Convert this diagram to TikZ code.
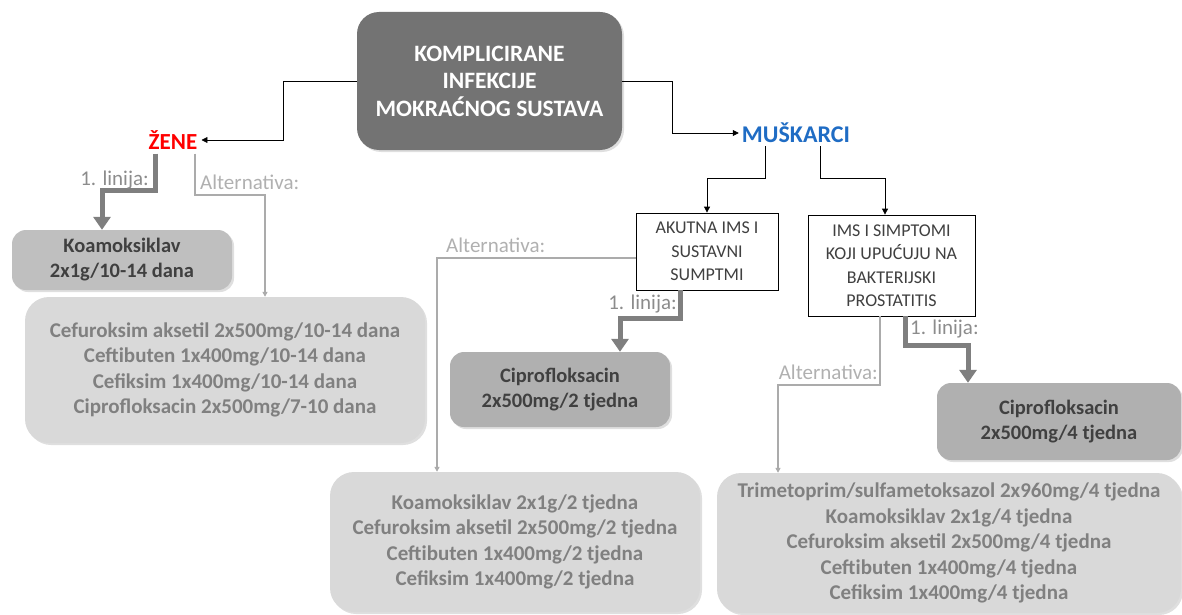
\documentclass[tikz,border=0pt]{standalone}
\usepackage{fontspec}
\setmainfont{Carlito}
\usetikzlibrary{arrows.meta,shadows}
\definecolor{maingray}{HTML}{737373}
\definecolor{firstfill}{HTML}{BFBFBF}
\definecolor{ciprofill}{HTML}{B0B0B0}
\definecolor{altfill}{HTML}{D9D9D9}
\definecolor{darktext}{HTML}{404040}
\definecolor{alttext}{HTML}{808080}
\definecolor{thickgray}{HTML}{7F7F7F}
\definecolor{altline}{HTML}{ABABAB}
\definecolor{labelgray}{HTML}{8C8C8C}
\definecolor{altlabel}{HTML}{B0B0B0}
\definecolor{muskblue}{HTML}{1F6CC4}
\tikzset{
  box/.style={rounded corners=14pt, inner sep=0pt, align=center,
    drop shadow={opacity=0.25, shadow xshift=2pt, shadow yshift=-2pt}},
  mainbox/.style={box, rounded corners=22pt, fill=maingray, text=white,
    font=\fontsize{23.5}{27.5}\selectfont\bfseries},
  firstbox/.style={box, fill=firstfill, text=darktext,
    font=\fontsize{20.5}{25}\selectfont\bfseries},
  ciprobox/.style={box, fill=ciprofill, text=darktext,
    font=\fontsize{20.5}{25}\selectfont\bfseries},
  altbox/.style={box, rounded corners=24pt, fill=altfill, text=alttext,
    font=\fontsize{21}{25.5}\selectfont\bfseries},
  catbox/.style={draw=black, line width=0.8pt, fill=white, inner sep=0pt,
    align=center, text=darktext, font=\fontsize{18}{23.5}\selectfont},
  thinarrow/.style={draw=black, line width=0.8pt, -{Triangle[width=6pt,length=6pt]}},
  firstarrow/.style={draw=thickgray, line width=5pt, -{Triangle[width=17pt,length=13pt]}},
  altarrow/.style={draw=altline, line width=1.5pt, -{Triangle[width=5pt,length=5pt]}},
  firstlabel/.style={text=labelgray, font=\fontsize{21}{23}\selectfont, inner sep=1pt},
  altlabelst/.style={text=altlabel, font=\fontsize{21}{23}\selectfont, inner sep=1pt}
}
\begin{document}
\begin{tikzpicture}[x=1pt,y=-1pt]
\useasboundingbox (0,0) rectangle (1182,615);

% nodes
\node[mainbox, minimum width=265pt, minimum height=138pt] (main) at (489.5,81)
  {KOMPLICIRANE\\INFEKCIJE\\MOKRAĆNOG SUSTAVA};
\node[text=red, font=\fontsize{23}{26}\selectfont\bfseries, inner sep=4pt] (zene) at (173,140) {ŽENE};
\node[text=muskblue, font=\fontsize{24}{26}\selectfont\bfseries, inner sep=3pt] (musk) at (796,133) {MUŠKARCI};

\node[catbox, minimum width=142pt, minimum height=77pt] (akutna) at (707,251.5)
  {AKUTNA IMS I\\SUSTAVNI\\SUMPTMI};
\node[catbox, minimum width=167pt, minimum height=101pt] (ims) at (891.5,265.5)
  {IMS I SIMPTOMI\\KOJI UPUĆUJU NA\\BAKTERIJSKI\\PROSTATITIS};

\node[firstbox, minimum width=220pt, minimum height=60pt] (koa) at (122,260)
  {Koamoksiklav\\2x1g/10-14 dana};
\node[altbox, minimum width=400pt, minimum height=146pt] (altL) at (225,370)
  {Cefuroksim aksetil 2x500mg/10-14 dana\\Ceftibuten 1x400mg/10-14 dana\\Cefiksim 1x400mg/10-14 dana\\Ciprofloksacin 2x500mg/7-10 dana};
\node[ciprobox, minimum width=220pt, minimum height=75pt] (cip2) at (560,389.5)
  {Ciprofloksacin\\2x500mg/2 tjedna};
\node[altbox, minimum width=370pt, minimum height=140pt] (altM) at (515,542)
  {Koamoksiklav 2x1g/2 tjedna\\Cefuroksim aksetil 2x500mg/2 tjedna\\Ceftibuten 1x400mg/2 tjedna\\Cefiksim 1x400mg/2 tjedna};
\node[ciprobox, minimum width=244pt, minimum height=77pt] (cip4) at (1059,421.5)
  {Ciprofloksacin\\2x500mg/4 tjedna};
\node[altbox, minimum width=464pt, minimum height=140pt] (altR) at (949,543)
  {Trimetoprim/sulfametoksazol 2x960mg/4 tjedna\\Koamoksiklav 2x1g/4 tjedna\\Cefuroksim aksetil 2x500mg/4 tjedna\\Ceftibuten 1x400mg/4 tjedna\\Cefiksim 1x400mg/4 tjedna};

% bend coordinates
\coordinate (a1) at (155,190); \coordinate (a2) at (102,190);
\coordinate (b1) at (195,195); \coordinate (b2) at (265,195);
\coordinate (c1) at (437,0); \coordinate (c2) at (0,258);
\coordinate (d1) at (680,318); \coordinate (d2) at (620,318);
\coordinate (e1) at (905,345); \coordinate (e2) at (968,345);
\coordinate (f1) at (880,385); \coordinate (f2) at (778,385);
\coordinate (m1) at (283,0); \coordinate (m2) at (672,0);
\coordinate (s1) at (765,178); \coordinate (s2) at (820,178);
\coordinate (t2) at (885,0);

% top connectors
\draw[thinarrow] (main.west) -| (m1 |- main.west) |- (zene.east);
\draw[thinarrow] (main.east) -| (m2 |- main.east) |- (musk.west);
\draw[thinarrow] (musk.south -| s1) -- (s1) -| (akutna.north);
\draw[thinarrow] (musk.south -| s2) -- (s2) -| (ims.north -| t2);

% first-line arrows
\draw[firstarrow] (zene.south -| a1) -- (a1) -- (a2) -- (koa.north -| a2);
\draw[firstarrow] (akutna.south -| d1) -- (d1) -- (d2) -- (cip2.north -| d2);
\draw[firstarrow] (ims.south -| e1) -- (e1) -- (e2) -- (cip4.north -| e2);

% alternative arrows
\draw[altarrow] (zene.south -| b1) -- (b1) -- (b2) -- (altL.north -| b2);
\draw[altarrow] (akutna.west |- c2) -| (altM.north -| c1);
\draw[altarrow] (ims.south -| f1) -- (f1) -- (f2) -- (altR.north -| f2);

% labels
\node[firstlabel, anchor=east] (l1) at (150,180) {1. linija:};
\node[altlabelst, anchor=west] (l2) at (199,182) {Alternativa:};
\node[altlabelst, anchor=west] (l3) at (445,245) {Alternativa:};
\node[firstlabel, anchor=east] (l4) at (678,304) {1. linija:};
\node[firstlabel, anchor=west] (l5) at (909,329) {1. linija:};
\node[altlabelst, anchor=east] (l6) at (879,372) {Alternativa:};
\end{tikzpicture}
\end{document}
